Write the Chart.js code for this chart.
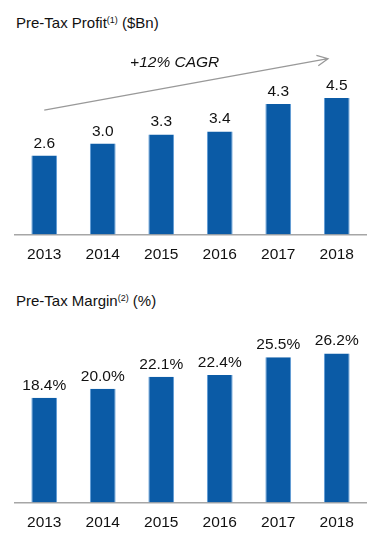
<!DOCTYPE html>
<html lang="en">
<head>
  <meta charset="UTF-8">
  <title>Pre-Tax Profit and Margin</title>
  <script src="https://cdn.jsdelivr.net/npm/chart.js"></script>
  <style>
    body {
      margin: 0;
      width: 384px;
      height: 548px;
      background: #fff;
      font-family: "Liberation Sans", Arial, sans-serif;
      color: #111;
      position: relative;
      overflow: hidden;
    }
    .title {
      position: absolute;
      left: 16px;
      font-size: 15px;
      line-height: 18px;
      white-space: nowrap;
    }
    .title sup {
      font-size: 9px;
      vertical-align: 5px;
      line-height: 0;
    }
    .box {
      position: absolute;
      left: 0;
      width: 384px;
    }
  </style>
</head>
<body>
  <div class="title" style="top: 14px;">Pre-Tax Profit<sup>(1)</sup> ($Bn)</div>
  <div class="box" style="top: 40px; height: 235px;">
    <canvas id="profitChart"></canvas>
  </div>

  <div class="title" style="top: 292px;">Pre-Tax Margin<sup>(2)</sup> (%)</div>
  <div class="box" style="top: 310px; height: 233px;">
    <canvas id="marginChart"></canvas>
  </div>

  <script>
    const years = ['2013', '2014', '2015', '2016', '2017', '2018'];
    const profit = [2.6, 3.0, 3.3, 3.4, 4.3, 4.5];
    const profitLabels = ['2.6', '3.0', '3.3', '3.4', '4.3', '4.5'];
    const margin = [18.4, 20.0, 22.1, 22.4, 25.5, 26.2];
    const marginLabels = ['18.4%', '20.0%', '22.1%', '22.4%', '25.5%', '26.2%'];

    // CAGR arrow in data units: [category index, value]
    const cagrText = '+12% CAGR';
    const cagrFrom = [0, 4.1];
    const cagrTo = [4.85, 5.8];
    const cagrTextAt = [2.23, 5.66];

    const barBlue = '#0b5ba6';
    const font = '"Liberation Sans", Arial, sans-serif';

    // value labels above each bar
    const valueLabels = {
      id: 'valueLabels',
      afterDatasetsDraw(chart, args, opts) {
        const ctx = chart.ctx;
        const meta = chart.getDatasetMeta(0);
        ctx.save();
        ctx.fillStyle = '#111';
        ctx.font = '15.5px ' + font;
        ctx.textAlign = 'center';
        ctx.textBaseline = 'alphabetic';
        meta.data.forEach((bar, i) => {
          ctx.fillText(opts.labels[i], bar.x, bar.y - 8);
        });
        ctx.restore();
      }
    };

    const cagrArrow = {
      id: 'cagrArrow',
      afterDatasetsDraw(chart) {
        const ctx = chart.ctx;
        const x = chart.scales.x, y = chart.scales.y;
        const x0 = x.getPixelForValue(cagrFrom[0]), y0 = y.getPixelForValue(cagrFrom[1]);
        const x1 = x.getPixelForValue(cagrTo[0]), y1 = y.getPixelForValue(cagrTo[1]);
        const ang = Math.atan2(y1 - y0, x1 - x0);
        const head = 12;
        ctx.save();
        ctx.strokeStyle = '#999';
        ctx.lineWidth = 1.3;
        ctx.beginPath();
        ctx.moveTo(x0, y0);
        ctx.lineTo(x1, y1);
        ctx.moveTo(x1 - head * Math.cos(ang - 0.45), y1 - head * Math.sin(ang - 0.45));
        ctx.lineTo(x1, y1);
        ctx.lineTo(x1 - head * Math.cos(ang + 0.45), y1 - head * Math.sin(ang + 0.45));
        ctx.stroke();
        ctx.fillStyle = '#111';
        ctx.font = 'italic 15.5px ' + font;
        ctx.textAlign = 'center';
        ctx.textBaseline = 'middle';
        ctx.fillText(cagrText, x.getPixelForValue(cagrTextAt[0]), y.getPixelForValue(cagrTextAt[1]));
        ctx.restore();
      }
    };

    function makeChart(id, values, labels, yMax, padTop, extra) {
      return new Chart(document.getElementById(id), {
        type: 'bar',
        data: {
          labels: years,
          datasets: [{
            data: values,
            backgroundColor: barBlue,
            borderColor: '#5d9ad6',
            borderWidth: { left: 1, right: 1, top: 0, bottom: 0 },
            categoryPercentage: 1,
            barPercentage: 0.44
          }]
        },
        options: {
          responsive: true,
          maintainAspectRatio: false,
          animation: false,
          events: [],
          layout: { padding: { left: 15, right: 18, top: padTop, bottom: 0 } },
          plugins: {
            legend: { display: false },
            tooltip: { enabled: false },
            valueLabels: { labels: labels }
          },
          scales: {
            x: {
              grid: { display: false, drawTicks: false },
              border: { display: true, color: '#a6a6a6', width: 1.5 },
              ticks: { color: '#111', font: { family: font, size: 15.5 }, padding: 11, maxRotation: 0 }
            },
            y: {
              display: false,
              min: 0,
              max: yMax
            }
          }
        },
        plugins: [valueLabels].concat(extra)
      });
    }

    makeChart('profitChart', profit, profitLabels, 6, 12.6, [cagrArrow]);
    makeChart('marginChart', margin, marginLabels, 32, 10.4, []);
  </script>
</body>
</html>
